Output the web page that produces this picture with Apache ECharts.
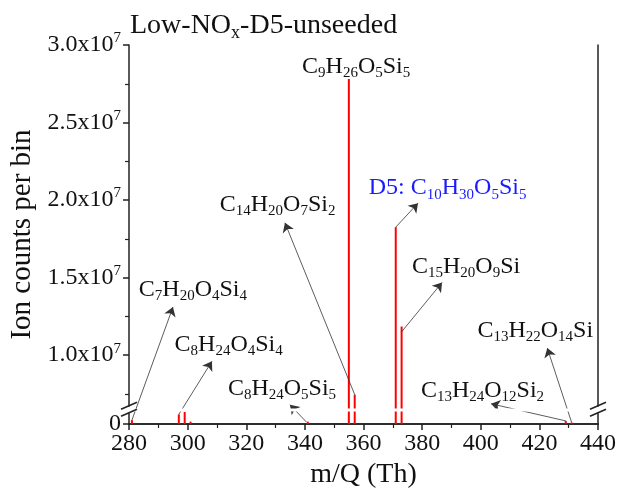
<!DOCTYPE html>
<html>
<head>
<meta charset="utf-8">
<script src="https://cdn.jsdelivr.net/npm/echarts@6/dist/echarts.min.js"></script>
<style>
  html, body { margin: 0; padding: 0; background: #fff; }
  #chart { width: 618px; height: 492px; }
</style>
</head>
<body>
<div id="chart"></div>
<script>
// peak positions (m/Q, Th) and heights (ion counts per bin)
var mz     = [281,   297,   299,   301,   341,   355,    357,    371,     373,     429,   431];
var counts = [2.5e5, 6.2e5, 7.8e5, 1.5e5, 1.5e5, 2.78e7, 7.45e6, 1.825e7, 1.184e7, 2.0e5, 1.0e5];

var xMin = 280, xMax = 440, xStep = 20;
var yMin = 0, yMax = 3.0e7;
var yTicks = [0, 1.0e7, 1.5e7, 2.0e7, 2.5e7, 3.0e7];
var yMinorTicks = [7.5e6, 1.25e7, 1.75e7, 2.25e7, 2.75e7];
var breakStart = 8.0e5, breakEnd = 6.6e6;

// annotations: formula, label centre (data units), arrow from / to (data units)
var formulas = ['C7H20O4Si4', 'C8H24O4Si4', 'C8H24O5Si5', 'C14H20O7Si2', 'C9H26O5Si5',
                'C10H30O5Si5', 'C15H20O9Si', 'C13H22O14Si', 'C13H24O12Si2'];
var labelAt  = [[301.8, 1.42e7], [314, 1.07e7], [332.2, 7.82e6], [330.7, 1.968e7], [357.5, 2.86e7],
                [388.7, 2.077e7], [395, 1.57e7], [418.6, 1.16e7], [400.6, 7.69e6]];
var arrowFrom = [[281, 2.5e5], [297, 6.2e5], [340.5, 1.3e5], [357, 7.45e6], null,
                 [371, 1.825e7], [373, 1.15e7], [431, 1.0e5], [429, 2.0e5]];
var arrowTo   = [[295, 1.31e7], [308.3, 9.6e6], [334.9, 6.8e6], [333.2, 1.853e7], null,
                 [378.6, 1.98e7], [386.8, 1.468e7], [422.7, 1.045e7], [403.5, 6.86e6]];

var FONT = 'Liberation Serif';

function chem(f, cls) {
    return f.replace(/(\d+)|([^\d]+)/g, function (m, d, t) {
        return d ? '{' + cls + 's|' + d + '}' : '{' + cls + 'm|' + t + '}';
    });
}

var richText = {
    m:  { fontFamily: FONT, fontSize: 24, lineHeight: 28, color: '#111' },
    s:  { fontFamily: FONT, fontSize: 15, lineHeight: 14, verticalAlign: 'bottom', color: '#111' },
    bm: { fontFamily: FONT, fontSize: 24, lineHeight: 28, color: '#1a1aff' },
    bs: { fontFamily: FONT, fontSize: 15, lineHeight: 14, verticalAlign: 'bottom', color: '#1a1aff' }
};

var pointData = formulas.map(function (f, i) {
    var txt = f === 'C10H30O5Si5' ? '{bm|D5: }' + chem(f, 'b') : chem(f, '');
    return { coord: labelAt[i], label: { formatter: txt } };
});
var lineData = [];
arrowFrom.forEach(function (a, i) {
    if (a) lineData.push([{ coord: a }, { coord: arrowTo[i] }]);
});

var chart = echarts.init(document.getElementById('chart'));

var axisCol = '#222';
var option = {
    animation: false,
    title: {
        text: '{a|Low-NO}{b|x}{a|-D5-unseeded}',
        left: 125, top: 5,
        textStyle: {
            fontWeight: 'normal',
            rich: {
                a: { fontFamily: FONT, fontSize: 28, lineHeight: 32, fontWeight: 'normal', color: '#111' },
                b: { fontFamily: FONT, fontSize: 18, lineHeight: 16, fontWeight: 'normal', verticalAlign: 'bottom', color: '#111' }
            }
        }
    },
    grid: { left: 129, right: 20, top: 45, bottom: 68, containLabel: false, outerBoundsMode: 'none' },
    xAxis: [{
        type: 'value', min: xMin, max: xMax, interval: xStep,
        name: 'm/Q (Th)', nameLocation: 'middle', nameGap: 30,
        nameTextStyle: { fontFamily: FONT, fontSize: 28, color: '#111' },
        axisLine: { lineStyle: { color: axisCol, width: 1.5 } },
        axisTick: { length: 6, lineStyle: { color: axisCol, width: 1.5 } },
        minorTick: { show: true, splitNumber: 2, length: 4, lineStyle: { color: axisCol, width: 1.2 } },
        splitLine: { show: false },
        axisLabel: { fontFamily: FONT, fontSize: 24, color: '#111', margin: 8 }
    }, {
        type: 'value', position: 'top', min: xMin, max: xMax,
        axisLine: { show: true, lineStyle: { color: axisCol, width: 1.5 } },
        axisTick: { show: false }, axisLabel: { show: false }, splitLine: { show: false }
    }],
    yAxis: [{
        type: 'value', min: yMin, max: yMax, z: 10,
        breaks: [{ start: breakStart, end: breakEnd, gap: '1%' }],
        breakArea: {
            show: true, zigzagAmplitude: 0, expandOnClick: false,
            itemStyle: { color: '#fff', borderColor: '#fff', borderWidth: 0, opacity: 1 }
        },
        name: 'Ion counts per bin', nameLocation: 'middle', nameGap: 86,
        nameTextStyle: { fontFamily: FONT, fontSize: 29, color: '#111' },
        axisLine: { lineStyle: { color: axisCol, width: 1.5 } },
        axisTick: { length: 6, customValues: yTicks, lineStyle: { color: axisCol, width: 1.5 } },
        minorTick: { show: false },
        splitLine: { show: false },
        axisLabel: {
            margin: 8, hideOverlap: false,
            customValues: yTicks,
            formatter: function (v) {
                if (v === 0) return '{n|0}';
                return '{n|' + (v / 1e7).toFixed(1) + 'x10}{p|7}';
            },
            rich: {
                n: { fontFamily: FONT, fontSize: 24, lineHeight: 28, color: '#111' },
                p: { fontFamily: FONT, fontSize: 15, lineHeight: 14, verticalAlign: 'top', color: '#111' }
            }
        }
    }, {
        // minor ticks on the left side
        type: 'value', position: 'left', min: yMin, max: yMax,
        breaks: [{ start: breakStart, end: breakEnd, gap: '1%' }],
        breakArea: { show: false },
        axisLine: { show: false },
        axisTick: { show: true, length: 4, customValues: yMinorTicks, lineStyle: { color: axisCol, width: 1.2 } },
        axisLabel: { show: false }, splitLine: { show: false }
    }, {
        type: 'value', position: 'right', min: yMin, max: yMax,
        breaks: [{ start: breakStart, end: breakEnd, gap: '1%' }],
        breakArea: { show: false },
        axisLine: { show: true, lineStyle: { color: axisCol, width: 1.5 } },
        axisTick: { show: false }, axisLabel: { show: false }, splitLine: { show: false }
    }],
    series: [{
        type: 'bar',
        data: mz.map(function (m, i) { return [m, counts[i]]; }),
        barWidth: 2,
        itemStyle: { color: '#ff0000' },
        markLine: {
            silent: true, animation: false,
            symbol: ['none', 'arrow'], symbolSize: 9,
            lineStyle: { color: '#333', width: 0.8, type: 'solid' },
            label: { show: false },
            data: lineData
        },
        markPoint: {
            silent: true, animation: false,
            symbol: 'circle', symbolSize: 1,
            itemStyle: { color: 'rgba(0,0,0,0)' },
            label: { show: true, position: 'inside', rich: richText },
            data: pointData
        }
    }]
};
chart.setOption(option);

// small "//" break marks on the left and right axes
var yA = chart.convertToPixel({ yAxisIndex: 0 }, breakStart);
var yB = chart.convertToPixel({ yAxisIndex: 0 }, breakEnd);
var yMid = (yA + yB) / 2;
var xL = chart.convertToPixel({ xAxisIndex: 0 }, xMin);
var xR = chart.convertToPixel({ xAxisIndex: 0 }, xMax);
function marks(x) {
    var s = { stroke: axisCol, lineWidth: 1.5 };
    return [
        { type: 'rect', shape: { x: x - 3, y: yMid - 3, width: 6, height: 6 }, style: { fill: '#fff' }, z: 100 },
        { type: 'line', shape: { x1: x - 8, y1: yMid - 0.5, x2: x + 8, y2: yMid - 7.5 }, style: s, z: 101 },
        { type: 'line', shape: { x1: x - 8, y1: yMid + 6.5, x2: x + 8, y2: yMid - 0.5 }, style: s, z: 101 }
    ];
}
chart.setOption({ graphic: marks(xL).concat(marks(xR)) });
</script>
</body>
</html>
